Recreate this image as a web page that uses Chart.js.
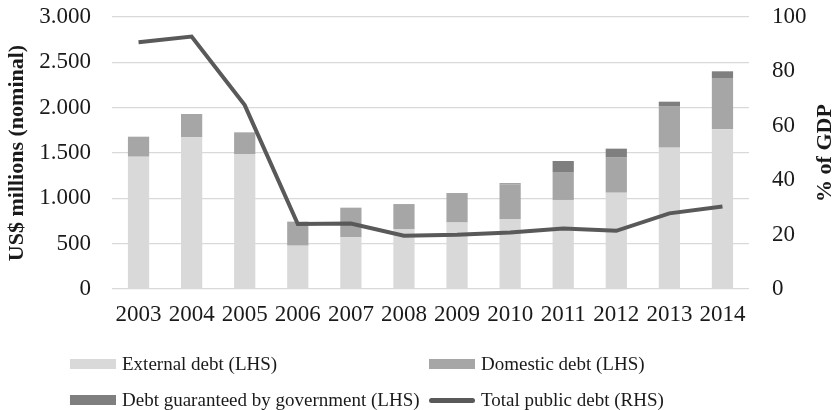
<!DOCTYPE html>
<html>
<head>
<meta charset="utf-8">
<script src="https://cdn.jsdelivr.net/npm/chart.js@4.4.1/dist/chart.umd.min.js"></script>
<style>
    body { margin: 0; background: #fff; }
    #wrap { position: relative; width: 838px; height: 410px; }
    #legend { position: absolute; left: 0; top: 0; width: 838px; height: 410px; pointer-events: none;
        font-family: 'Liberation Serif', serif; font-size: 19px; color: #1a1a1a; }
    .item { position: absolute; display: flex; align-items: center; white-space: nowrap; }
    .swatch { width: 46px; margin-right: 6px; }
</style>
</head>
<body>
<div id="wrap">
    <canvas id="debtChart" width="838" height="410"></canvas>
    <div id="legend"></div>
</div>
<script>
const years = ['2003', '2004', '2005', '2006', '2007', '2008', '2009', '2010', '2011', '2012', '2013', '2014'];
const externalDebt = [1459, 1673, 1489, 478, 570, 662, 733, 772, 982, 1062, 1559, 1761];
const domesticDebt = [221, 257, 239, 265, 327, 275, 326, 382, 301, 387, 459, 566];
const guaranteedDebt = [0, 0, 0, 0, 0, 0, 0, 12, 129, 99, 48, 74];
const totalDebtPctGdp = [90.7, 92.8, 67.6, 23.9, 24.1, 19.6, 19.9, 20.8, 22.2, 21.4, 27.8, 30.3];
const leftTicks = [0, 500, 1000, 1500, 2000, 2500, 3000];
const rightTicks = [0, 20, 40, 60, 80, 100];

Chart.defaults.font.family = "'Liberation Serif', serif";
Chart.defaults.color = '#1a1a1a';

// right axis title reads bottom-to-top like the left one
const rightTitlePlugin = {
    id: 'rightTitle',
    afterDraw(chart, args, opts) {
        const { ctx, chartArea } = chart;
        ctx.save();
        ctx.font = 'bold 22px "Liberation Serif", serif';
        ctx.fillStyle = '#1a1a1a';
        ctx.textAlign = 'center';
        ctx.textBaseline = 'middle';
        ctx.translate(opts.x, (chartArea.top + chartArea.bottom) / 2);
        ctx.rotate(-Math.PI / 2);
        ctx.fillText(opts.text, 0, 0);
        ctx.restore();
    }
};

const ctx = document.getElementById('debtChart').getContext('2d');

const chart = new Chart(ctx, {
    type: 'bar',
    plugins: [rightTitlePlugin],
    data: {
        labels: years,
        datasets: [
            {
                type: 'line',
                label: 'Total public debt (RHS)',
                data: totalDebtPctGdp,
                yAxisID: 'y1',
                borderColor: '#595959',
                backgroundColor: '#595959',
                borderWidth: 4,
                pointRadius: 0,
                tension: 0,
                order: 0
            },
            {
                label: 'External debt (LHS)',
                data: externalDebt,
                backgroundColor: '#d9d9d9',
                stack: 'debt',
                order: 1
            },
            {
                label: 'Domestic debt (LHS)',
                data: domesticDebt,
                backgroundColor: '#a6a6a6',
                stack: 'debt',
                order: 1
            },
            {
                label: 'Debt guaranteed by government (LHS)',
                data: guaranteedDebt,
                backgroundColor: '#7f7f7f',
                stack: 'debt',
                order: 1
            }
        ]
    },
    options: {
        responsive: false,
        animation: false,
        layout: { padding: { top: 17, bottom: 80, left: 0, right: 0 } },
        datasets: {
            bar: { categoryPercentage: 0.8, barPercentage: 0.5 }
        },
        plugins: {
            legend: { display: false },
            tooltip: { enabled: false },
            rightTitle: { text: '% of GDP', x: 825 }
        },
        scales: {
            x: {
                stacked: true,
                grid: { display: false, drawTicks: false },
                border: { display: false },
                ticks: { font: { size: 23 }, padding: 12, maxRotation: 0, autoSkip: false },
                afterFit: (scale) => { scale.height = 41; }
            },
            y: {
                stacked: true,
                position: 'left',
                min: 0,
                max: 3000,
                afterBuildTicks: (scale) => { scale.ticks = leftTicks.map(v => ({ value: v })); },
                grid: { color: '#d9d9d9', lineWidth: 1.3, drawTicks: false },
                border: { display: false },
                ticks: {
                    font: { size: 23 },
                    padding: 21,
                    callback: (value) => value.toString().replace(/\B(?=(\d{3})+(?!\d))/g, '.')
                },
                title: {
                    display: true,
                    text: 'US$ millions (nominal)',
                    font: { size: 22, weight: 'bold' },
                    padding: { top: 4, bottom: 0 }
                },
                afterFit: (scale) => {
                    scale.width = 112;
                    scale.paddingTop = 0;
                    scale.paddingBottom = 0;
                }
            },
            y1: {
                position: 'right',
                min: 0,
                max: 100,
                afterBuildTicks: (scale) => { scale.ticks = rightTicks.map(v => ({ value: v })); },
                grid: { display: false, drawTicks: false },
                border: { display: false },
                ticks: { font: { size: 23 }, padding: 23 },
                afterFit: (scale) => {
                    scale.width = 89;
                    scale.paddingTop = 0;
                    scale.paddingBottom = 0;
                }
            }
        }
    }
});

// legend laid out as in the original: two columns, two rows
function buildLegend(chart) {
    const legend = document.getElementById('legend');
    const sets = chart.data.datasets;
    const slots = [
        { label: 'External debt (LHS)', x: 70, y: 364 },
        { label: 'Domestic debt (LHS)', x: 429, y: 364 },
        { label: 'Debt guaranteed by government (LHS)', x: 70, y: 400 },
        { label: 'Total public debt (RHS)', x: 429, y: 400 }
    ];
    slots.forEach(slot => {
        const ds = sets.find(d => d.label === slot.label);
        const item = document.createElement('div');
        item.className = 'item';
        item.style.left = slot.x + 'px';
        item.style.top = (slot.y - 12) + 'px';
        item.style.height = '24px';
        const sw = document.createElement('span');
        sw.className = 'swatch';
        if (ds.type === 'line') {
            sw.style.height = '5px';
            sw.style.borderRadius = '3px';
            sw.style.background = ds.borderColor;
        } else {
            sw.style.height = '10px';
            sw.style.background = ds.backgroundColor;
        }
        const txt = document.createElement('span');
        txt.textContent = ds.label;
        item.appendChild(sw);
        item.appendChild(txt);
        legend.appendChild(item);
    });
}

buildLegend(chart);
</script>
</body>
</html>
